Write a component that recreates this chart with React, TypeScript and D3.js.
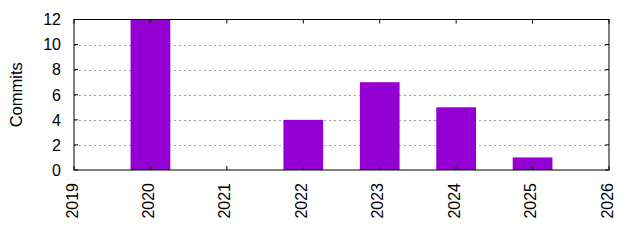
import React from "react";
import * as d3 from "d3";

const years = [2020, 2021, 2022, 2023, 2024, 2025];
const commits = [12, 0, 4, 7, 5, 1];
const xTicks = [2019, 2020, 2021, 2022, 2023, 2024, 2025, 2026];
const yTicks = [0, 2, 4, 6, 8, 10, 12];

const W = 640, H = 240;
const L = 74, R = 609, T = 19.5, B = 170;
const FONT = "Liberation Sans, Arial, sans-serif";

export default function App() {
  const x = d3.scaleLinear().domain([2019, 2026]).range([L, R]);
  const y = d3.scaleLinear().domain([0, 12]).range([B, T]);
  const bw = x(2019.52) - x(2019);
  const tl = 4;
  return (
    <svg width={W} height={H} style={{ position: "absolute", left: 0, top: 0, background: "#fff" }}>
      <rect x={0} y={0} width={W} height={H} fill="#fff" />
      {yTicks.filter(v => v > 0 && v < 12).map(v => (
        <line key={"g" + v} x1={L} x2={R} y1={Math.round(y(v)) + 0.5} y2={Math.round(y(v)) + 0.5}
          stroke="#a0a0a0" strokeWidth={1} strokeDasharray="2,3" />
      ))}
      {years.map((yr, i) => (
        <rect key={yr} x={x(yr) - bw / 2} y={y(commits[i])} width={bw} height={B - y(commits[i])} fill="#9400d3" />
      ))}
      {yTicks.map(v => (
        <g key={"yt" + v}>
          <line x1={L} x2={L + tl} y1={y(v)} y2={y(v)} stroke="#000" />
          <line x1={R - tl} x2={R} y1={y(v)} y2={y(v)} stroke="#000" />
          <text x={61} y={y(v)} dy="0.36em" textAnchor="end" fontFamily={FONT} fontSize={16} fill="#000">{v}</text>
        </g>
      ))}
      {xTicks.map(v => (
        <g key={"xt" + v}>
          <line x1={x(v)} x2={x(v)} y1={B} y2={B - tl} stroke="#000" />
          <line x1={x(v)} x2={x(v)} y1={T} y2={T + tl} stroke="#000" />
          <text transform={`translate(${x(v) + 3.5},${183}) rotate(-90)`} textAnchor="end"
            fontFamily={FONT} fontSize={16} fill="#000">{v}</text>
        </g>
      ))}
      <rect x={L} y={T} width={R - L} height={B - T} fill="none" stroke="#000" strokeWidth={1} />
      <text transform={`translate(${21.5},${(T + B) / 2}) rotate(-90)`} textAnchor="middle"
        fontFamily={FONT} fontSize={16.5} fill="#000">Commits</text>
    </svg>
  );
}
